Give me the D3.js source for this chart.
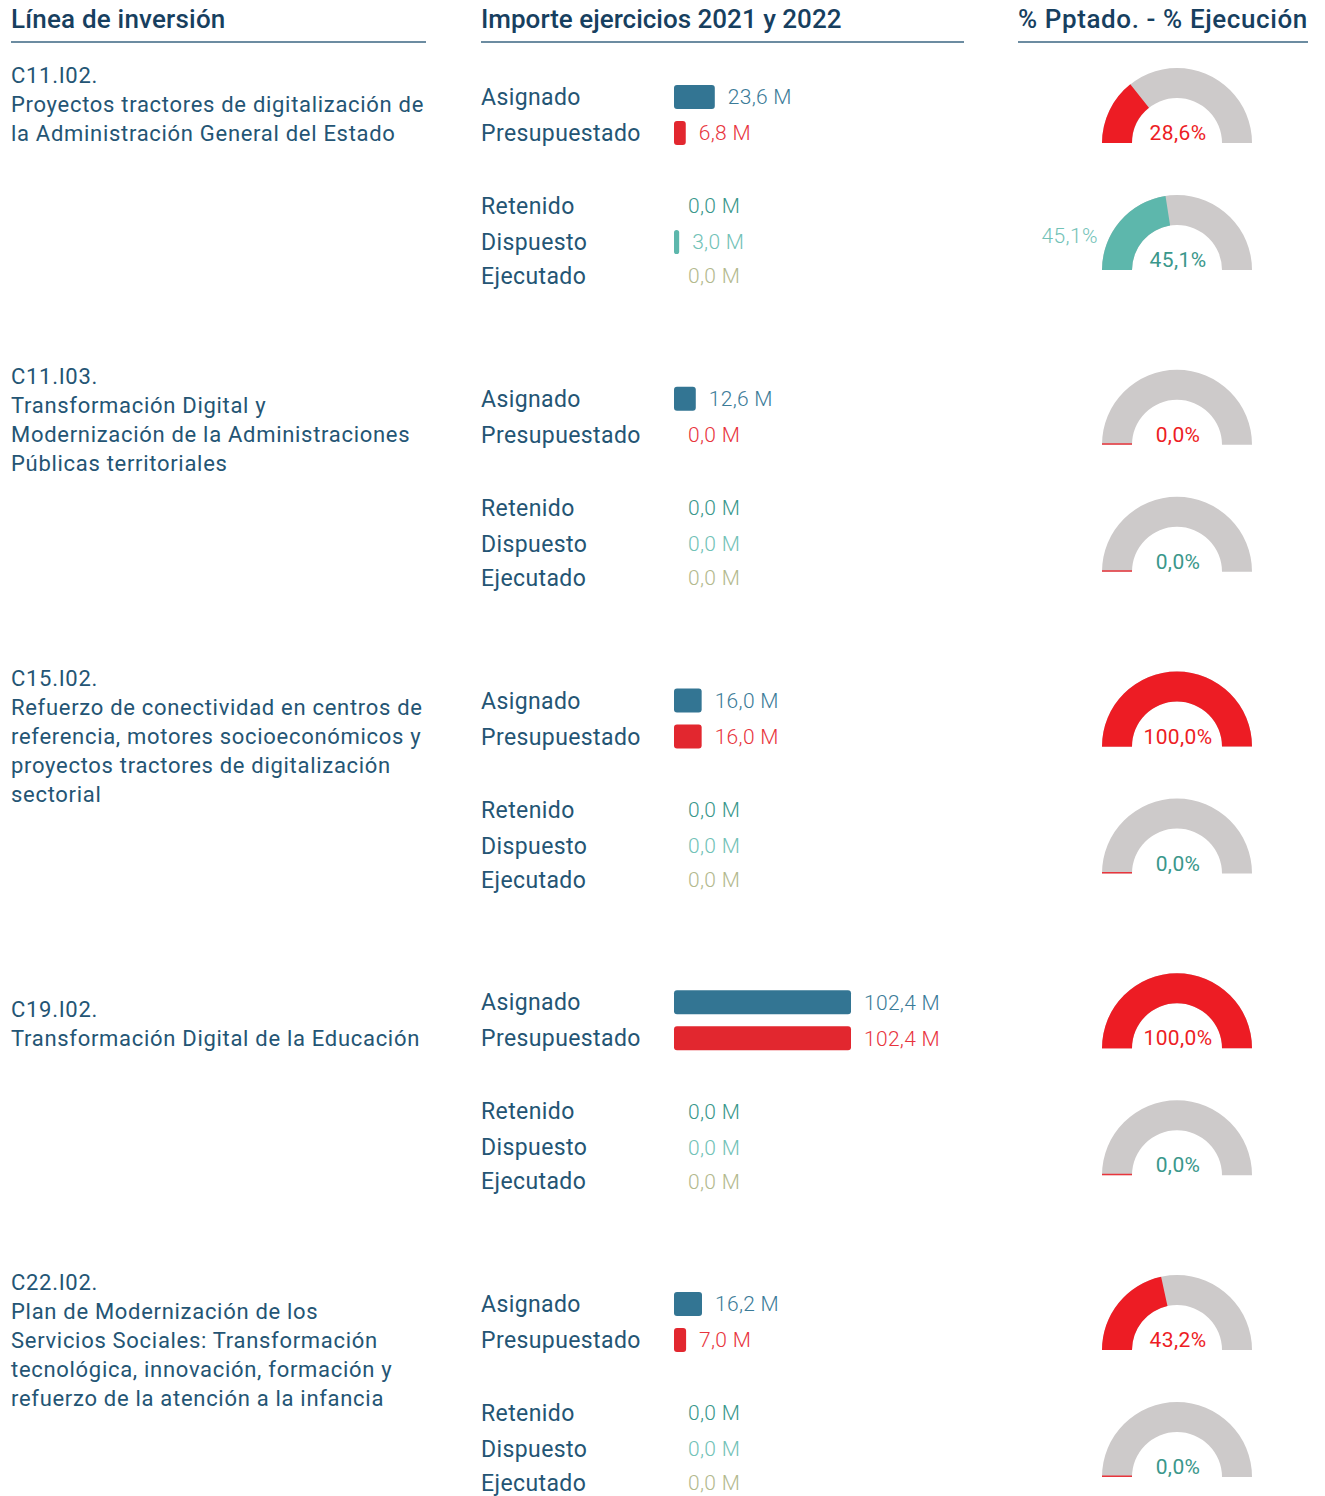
<!DOCTYPE html>
<html lang="es">
<head>
<meta charset="utf-8">
<script src="https://cdn.jsdelivr.net/npm/d3@7"></script>
<style>
  html, body { margin: 0; padding: 0; background: #ffffff; }
  svg { display: block; }
  text { font-family: Roboto, "Noto Sans", sans-serif; }
</style>
</head>
<body>
<svg id="chart" width="1325" height="1496"></svg>
<script>
// ---- Data -------------------------------------------------------------
const headers = ["Línea de inversión", "Importe ejercicios 2021 y 2022", "% Pptado. - % Ejecución"];

const codes = ["C11.I02.", "C11.I03.", "C15.I02.", "C19.I02.", "C22.I02."];
const descriptions = [
  ["Proyectos tractores de digitalización de", "la Administración General del Estado"],
  ["Transformación Digital y", "Modernización de la Administraciones", "Públicas territoriales"],
  ["Refuerzo de conectividad en centros de", "referencia, motores socioeconómicos y", "proyectos tractores de digitalización", "sectorial"],
  ["Transformación Digital de la Educación"],
  ["Plan de Modernización de los", "Servicios Sociales: Transformación", "tecnológica, innovación, formación y", "refuerzo de la atención a la infancia"]
];

const rowLabels = ["Asignado", "Presupuestado", "Retenido", "Dispuesto", "Ejecutado"];

// Importes en millones de euros
const asignado      = [23.6, 12.6, 16.0, 102.4, 16.2];
const presupuestado = [6.8, 0.0, 16.0, 102.4, 7.0];
const retenido      = [0.0, 0.0, 0.0, 0.0, 0.0];
const dispuesto     = [3.0, 0.0, 0.0, 0.0, 0.0];
const ejecutado     = [0.0, 0.0, 0.0, 0.0, 0.0];

// Porcentajes
const pctPresupuestado = [28.6, 0.0, 100.0, 100.0, 43.2];
const pctDispuesto     = [45.1, 0.0, 0.0, 0.0, 0.0];
const pctEjecucion     = [45.1, 0.0, 0.0, 0.0, 0.0];

// ---- Styles -----------------------------------------------------------
const C = {
  navy: "#173f5f",
  text: "#245574",
  rule: "#6c8ca1",
  asig: "#337593",
  asigTxt: "#3b7b98",
  ppto: "#e2272f",
  pptoTxt: "#e8343d",
  ret: "#3a978b",
  disp: "#5db7ac",
  dispTxt: "#72c2b7",
  ejec: "#b3b98e",
  gaugeBg: "#cdcaca",
  gaugeRed: "#ed1c24"
};

const locale = d3.formatLocale({ decimal: ",", thousands: ".", grouping: [3], currency: ["", "€"] });
const fmt1 = locale.format(".1f");

const svg = d3.select("#chart");

// ---- Layout -----------------------------------------------------------
const blockY = d3.scaleLinear().domain([0, 1]).range([97, 398.75]);   // y of the "Asignado" row per block
const rowOffset = [0, 36, 109, 145, 179];
const colLeft = 11, colMid = 481, colRight = 1018;
const barX0 = 674;
const xBar = d3.scaleLinear().domain([0, 102.4]).range([0, 177]);
const barH = 24;
const lineH = 29;

const gaugeCx = 1177, rOuter = 75, rInner = 45;
const gaugeAngle = d3.scaleLinear().domain([0, 100]).range([-Math.PI / 2, Math.PI / 2]);
const arc = d3.arc().innerRadius(rInner).outerRadius(rOuter);

// ---- Headers ----------------------------------------------------------
const headerCols = [
  { x: colLeft, x2: 426 },
  { x: colMid, x2: 964 },
  { x: colRight, x2: 1308 }
];
const hdr = svg.append("g").attr("class", "headers");
hdr.selectAll("text").data(headers).join("text")
  .attr("x", (d, i) => headerCols[i].x)
  .attr("y", 28)
  .attr("fill", C.navy)
  .attr("font-size", 26)
  .attr("font-weight", 500)
  .attr("letter-spacing", (d, i) => [0.2, 0, 0.6][i])
  .text(d => d);
hdr.selectAll("line").data(headerCols).join("line")
  .attr("x1", d => d.x).attr("x2", d => d.x2)
  .attr("y1", 42).attr("y2", 42)
  .attr("stroke", C.rule).attr("stroke-width", 2);

// ---- Blocks -----------------------------------------------------------
codes.forEach((code, i) => {
  const y0 = blockY(i);
  const g = svg.append("g").attr("class", "block");

  // Left column: code + description
  const lines = [code].concat(descriptions[i]);
  const firstLineY = lines.length <= 2 ? y0 + 18 - (lines.length - 1) * lineH / 2 + 4 : y0 - 22;
  g.append("g").selectAll("text").data(lines).join("text")
    .attr("x", colLeft)
    .attr("y", (d, k) => firstLineY + k * lineH)
    .attr("dy", "0.35em")
    .attr("fill", C.text)
    .attr("font-size", 22)
    .attr("font-weight", 400)
    .attr("letter-spacing", 0.7)
    .text(d => d);

  // Middle column: amounts
  const rows = [
    { label: rowLabels[0], v: asignado[i], fill: C.asig, txt: C.asigTxt },
    { label: rowLabels[1], v: presupuestado[i], fill: C.ppto, txt: C.pptoTxt },
    { label: rowLabels[2], v: retenido[i], fill: C.ret, txt: C.ret },
    { label: rowLabels[3], v: dispuesto[i], fill: C.disp, txt: C.dispTxt },
    { label: rowLabels[4], v: ejecutado[i], fill: C.ejec, txt: C.ejec }
  ];
  const rg = g.append("g").selectAll("g").data(rows).join("g")
    .attr("transform", (d, k) => `translate(0,${y0 + rowOffset[k]})`);
  rg.append("text")
    .attr("x", colMid)
    .attr("dy", "0.35em")
    .attr("fill", C.text)
    .attr("font-size", 23)
    .attr("font-weight", 400)
    .attr("letter-spacing", 0.4)
    .text(d => d.label);
  rg.filter(d => d.v > 0).append("rect")
    .attr("x", barX0)
    .attr("y", -barH / 2)
    .attr("width", d => xBar(d.v))
    .attr("height", barH)
    .attr("rx", d => Math.min(3, xBar(d.v) / 2))
    .attr("fill", d => d.fill);
  rg.append("text")
    .attr("x", d => barX0 + xBar(d.v) + (d.v > 0 ? 13 : 14))
    .attr("dy", "0.35em")
    .attr("fill", d => d.txt)
    .attr("font-size", 21)
    .attr("font-weight", 300)
    .attr("letter-spacing", 0.3)
    .text(d => fmt1(d.v) + " M");

  // Right column: gauges
  const gauges = [
    { base: y0 + 46, pct: pctPresupuestado[i], fill: C.gaugeRed, txt: C.gaugeRed, side: null },
    { base: y0 + 173, pct: pctEjecucion[i], fill: C.disp, txt: C.ret, side: pctDispuesto[i] }
  ];
  gauges.forEach(gd => {
    const gg = g.append("g").attr("transform", `translate(${gaugeCx},${gd.base})`);
    gg.append("path")
      .attr("d", arc({ startAngle: -Math.PI / 2, endAngle: Math.PI / 2 }))
      .attr("fill", C.gaugeBg);
    gg.append("line")
      .attr("x1", -rOuter).attr("x2", -rInner)
      .attr("y1", -0.75).attr("y2", -0.75)
      .attr("stroke", C.gaugeRed).attr("stroke-width", 1.5)
      .attr("opacity", 0.85);
    if (gd.pct > 0) {
      gg.append("path")
        .attr("d", arc({ startAngle: -Math.PI / 2, endAngle: gaugeAngle(gd.pct) }))
        .attr("fill", gd.fill);
    }
    gg.append("text")
      .attr("x", 1)
      .attr("y", -3)
      .attr("text-anchor", "middle")
      .attr("fill", gd.txt)
      .attr("font-size", 21)
      .attr("font-weight", 400)
      .attr("letter-spacing", 0.4)
      .text(fmt1(gd.pct) + "%");
    if (gd.side !== null && gd.side > 0) {
      gg.append("text")
        .attr("x", -rOuter - 4)
        .attr("y", -27)
        .attr("text-anchor", "end")
        .attr("fill", C.dispTxt)
        .attr("font-size", 21)
        .attr("font-weight", 300)
        .attr("letter-spacing", 0.4)
        .text(fmt1(gd.side) + "%");
    }
  });
});
</script>
</body>
</html>
